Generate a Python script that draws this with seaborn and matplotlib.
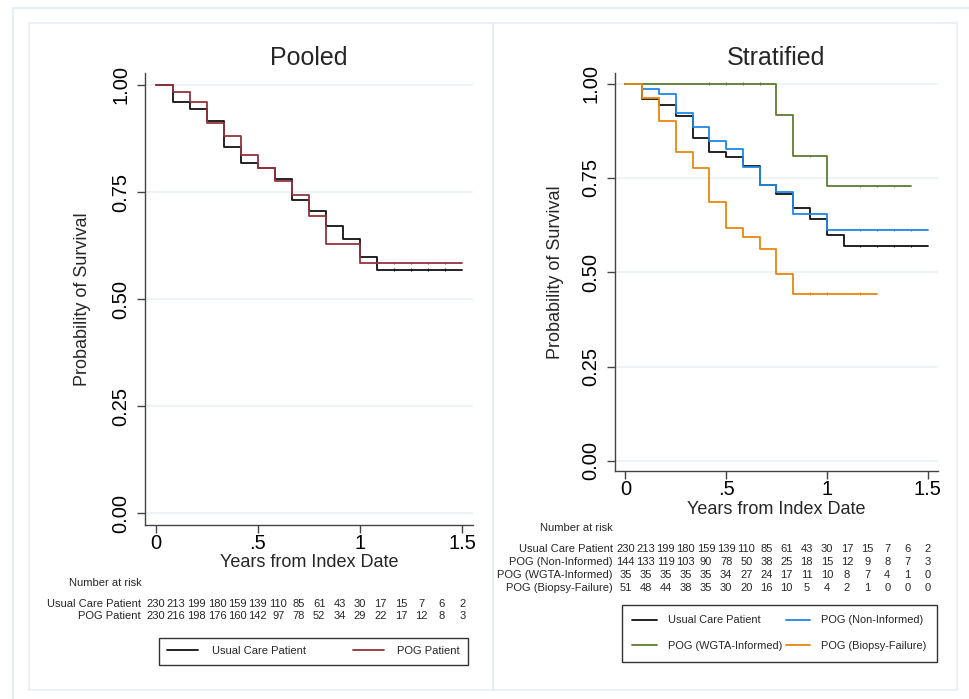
import pandas as pd
import matplotlib.pyplot as plt
import seaborn as sns
from matplotlib.lines import Line2D
from matplotlib.patches import Rectangle
from matplotlib.transforms import blended_transform_factory

sns.set_theme(style="white")
plt.rcParams['font.family'] = ['Liberation Sans', 'DejaVu Sans']

# Kaplan-Meier estimates, one value per month
usual_care = [1.000, 0.960, 0.943, 0.915, 0.855, 0.818, 0.806, 0.781, 0.731, 0.706,
              0.671, 0.640, 0.598, 0.569, 0.569, 0.569, 0.569, 0.569, 0.569]
pog_patient = [1.000, 0.983, 0.960, 0.912, 0.880, 0.836, 0.806, 0.776, 0.743, 0.695,
               0.629, 0.629, 0.585, 0.585, 0.585, 0.585, 0.585, 0.585, 0.585]
pog_non_informed = [1.000, 0.986, 0.972, 0.922, 0.885, 0.847, 0.826, 0.779, 0.732, 0.712,
                    0.655, 0.655, 0.612, 0.612, 0.612, 0.612, 0.612, 0.612, 0.612]
pog_wgta = [1.000, 1.000, 1.000, 1.000, 1.000, 1.000, 1.000, 1.000, 1.000, 0.917,
            0.808, 0.808, 0.728, 0.728, 0.728, 0.728, 0.728, 0.728]
pog_biopsy = [1.000, 0.961, 0.901, 0.818, 0.775, 0.687, 0.618, 0.592, 0.561, 0.494,
              0.443, 0.443, 0.443, 0.443, 0.443, 0.443]

# months with a censoring tick
cens_usual = [14, 15, 16, 17]
cens_pog = [14, 15, 16, 17]
cens_non_inf = [14, 15, 16, 17]
cens_wgta = [5, 6, 7, 8, 11, 14, 15, 16]
cens_biopsy = [11, 12, 14]

# number at risk
risk_times = [0, 0.1, 0.2, 0.3, 0.4, 0.5, 0.6, 0.7, 0.8, 0.9, 1.0, 1.1, 1.2, 1.3, 1.4, 1.5]
risk_usual = [230, 213, 199, 180, 159, 139, 110, 85, 61, 43, 30, 17, 15, 7, 6, 2]
risk_pog = [230, 216, 198, 176, 160, 142, 97, 78, 52, 34, 29, 22, 17, 12, 8, 3]
risk_non_inf = [144, 133, 119, 103, 90, 78, 50, 38, 25, 18, 15, 12, 9, 8, 7, 3]
risk_wgta = [35, 35, 35, 35, 35, 34, 27, 24, 17, 11, 10, 8, 7, 4, 1, 0]
risk_biopsy = [51, 48, 44, 38, 35, 30, 20, 16, 10, 5, 4, 2, 1, 0, 0, 0]

BLACK = "#111111"
RED = "#93343f"
BLUE = "#1f87e6"
GREEN = "#5d7d30"
ORANGE = "#e8870f"
FRAME = "#e6eef1"
W, H = 970, 699


def km_frame(series):
    rows = []
    for name, vals in series.items():
        for m, s in enumerate(vals):
            rows.append({"years": m / 12, "surv": s, "group": name})
    return pd.DataFrame(rows)


def cens_frame(series, cens):
    rows = []
    for name, months in cens.items():
        for m in months:
            rows.append({"years": m / 12, "surv": series[name][m], "group": name})
    return pd.DataFrame(rows)


def style_axes(ax, title, xlab_y, ylab_x):
    ax.set_xlim(-0.052, 1.552)
    ax.set_ylim(-0.027, 1.028)
    ax.set_xticks([0, 0.5, 1, 1.5])
    ax.set_xticklabels(["0", ".5", "1", "1.5"])
    ax.set_yticks([0, 0.25, 0.5, 0.75, 1.0])
    ax.set_yticklabels(["0.00", "0.25", "0.50", "0.75", "1.00"])
    for lab in ax.get_yticklabels():
        lab.set_rotation(90)
        lab.set_va("center")
    ax.tick_params(axis="both", labelsize=14.5, colors="#444444", labelcolor="black",
                   direction="out", length=5.5, width=1, left=True, bottom=True)
    ax.tick_params(axis="x", pad=1)
    ax.tick_params(axis="y", pad=5)
    ax.grid(axis="y", color="#eaf2f3", linewidth=1.2)
    ax.grid(axis="x", visible=False)
    for side in ["top", "right"]:
        ax.spines[side].set_visible(False)
    for side in ["left", "bottom"]:
        ax.spines[side].set_color("#444444")
        ax.spines[side].set_linewidth(1)
    ax.set_title(title, fontsize=18, pad=6)
    ax.set_xlabel("Years from Index Date", fontsize=13)
    ax.set_ylabel("Probability of Survival", fontsize=13)
    ax.xaxis.set_label_coords(0.5, xlab_y)
    ax.yaxis.set_label_coords(ylab_x, 0.5)


fig = plt.figure(figsize=(W / 100, H / 100), dpi=100)

# panel frames
fig.add_artist(Rectangle((13 / W, -0.1), 1.2, 1 - 8 / H + 0.1, transform=fig.transFigure,
                         fill=False, edgecolor=FRAME, linewidth=1.5))
for x0 in [29, 493]:
    fig.add_artist(Rectangle((x0 / W, 1 - 690 / H), 464 / W, 667 / H, transform=fig.transFigure,
                             fill=False, edgecolor=FRAME, linewidth=1.2))

ax1 = fig.add_axes([145 / W, 1 - 525 / H, 328 / W, 452 / H])
ax2 = fig.add_axes([615 / W, 1 - 471 / H, 323 / W, 398 / H])

# Pooled
pooled = {"Usual Care Patient": usual_care, "POG Patient": pog_patient}
pooled_pal = {"Usual Care Patient": BLACK, "POG Patient": RED}
sns.lineplot(data=km_frame(pooled), x="years", y="surv", hue="group", palette=pooled_pal,
             hue_order=list(pooled), drawstyle="steps-post", estimator=None,
             linewidth=1.3, legend=False, ax=ax1)
sns.scatterplot(data=cens_frame(pooled, {"Usual Care Patient": cens_usual, "POG Patient": cens_pog}),
                x="years", y="surv", hue="group", palette=pooled_pal, marker="|", s=3,
                linewidth=0.8, legend=False, ax=ax1)
style_axes(ax1, "Pooled", -0.064, -0.165)

# Stratified
strat = {"Usual Care Patient": usual_care, "POG (Non-Informed)": pog_non_informed,
         "POG (WGTA-Informed)": pog_wgta, "POG (Biopsy-Failure)": pog_biopsy}
strat_pal = {"Usual Care Patient": BLACK, "POG (Non-Informed)": BLUE,
             "POG (WGTA-Informed)": GREEN, "POG (Biopsy-Failure)": ORANGE}
sns.lineplot(data=km_frame(strat), x="years", y="surv", hue="group", palette=strat_pal,
             hue_order=list(strat), drawstyle="steps-post", estimator=None,
             linewidth=1.3, legend=False, ax=ax2)
strat_cens = {"Usual Care Patient": cens_usual, "POG (Non-Informed)": cens_non_inf,
              "POG (WGTA-Informed)": cens_wgta, "POG (Biopsy-Failure)": cens_biopsy}
sns.scatterplot(data=cens_frame(strat, strat_cens), x="years", y="surv", hue="group",
                palette=strat_pal, marker="|", s=3, linewidth=0.8, legend=False, ax=ax2)
style_axes(ax2, "Stratified", -0.076, -0.158)


def risk_table(ax, head_xy, label_x, rows, ys):
    trans = blended_transform_factory(ax.transData, fig.transFigure)
    fig.text(head_xy[0] / W, 1 - head_xy[1] / H, "Number at risk", fontsize=8,
             ha="left", va="center")
    for (label, counts), y in zip(rows, ys):
        fig.text(label_x / W, 1 - y / H, label, fontsize=8, ha="right", va="center")
        for t, n in zip(risk_times, counts):
            ax.text(t, 1 - y / H, str(n), transform=trans, fontsize=8,
                    ha="center", va="center")


risk_table(ax1, (69, 583), 141,
           [("Usual Care Patient", risk_usual), ("POG Patient", risk_pog)], [604, 616])
risk_table(ax2, (540, 528), 613,
           [("Usual Care Patient", risk_usual), ("POG (Non-Informed)", risk_non_inf),
            ("POG (WGTA-Informed)", risk_wgta), ("POG (Biopsy-Failure)", risk_biopsy)],
           [549, 562, 575, 588])

# legends
h1 = [Line2D([], [], color=pooled_pal[k], lw=1.3) for k in pooled]
leg1 = fig.legend(h1, list(pooled), loc="upper left",
                  bbox_to_anchor=(159 / W, 1 - 666 / H, 309 / W, 28 / H),
                  bbox_transform=fig.transFigure, mode="expand", ncol=2, fontsize=8,
                  frameon=True, fancybox=False, edgecolor="black", borderaxespad=0,
                  handlelength=2.8, handletextpad=1.2, borderpad=0.75)
leg1.get_frame().set_linewidth(1)

order = ["Usual Care Patient", "POG (WGTA-Informed)", "POG (Non-Informed)", "POG (Biopsy-Failure)"]
h2 = [Line2D([], [], color=strat_pal[k], lw=1.3) for k in order]
leg2 = fig.legend(h2, order, loc="upper left",
                  bbox_to_anchor=(622 / W, 1 - 605 / H),
                  bbox_transform=fig.transFigure, ncol=2, fontsize=7.9,
                  frameon=True, fancybox=False, edgecolor="black", borderaxespad=0,
                  handlelength=2.25, handletextpad=1.0, borderpad=0.95, labelspacing=1.45,
                  columnspacing=0.3)
leg2.get_frame().set_linewidth(1)

fig.savefig("out.png", dpi=100)
